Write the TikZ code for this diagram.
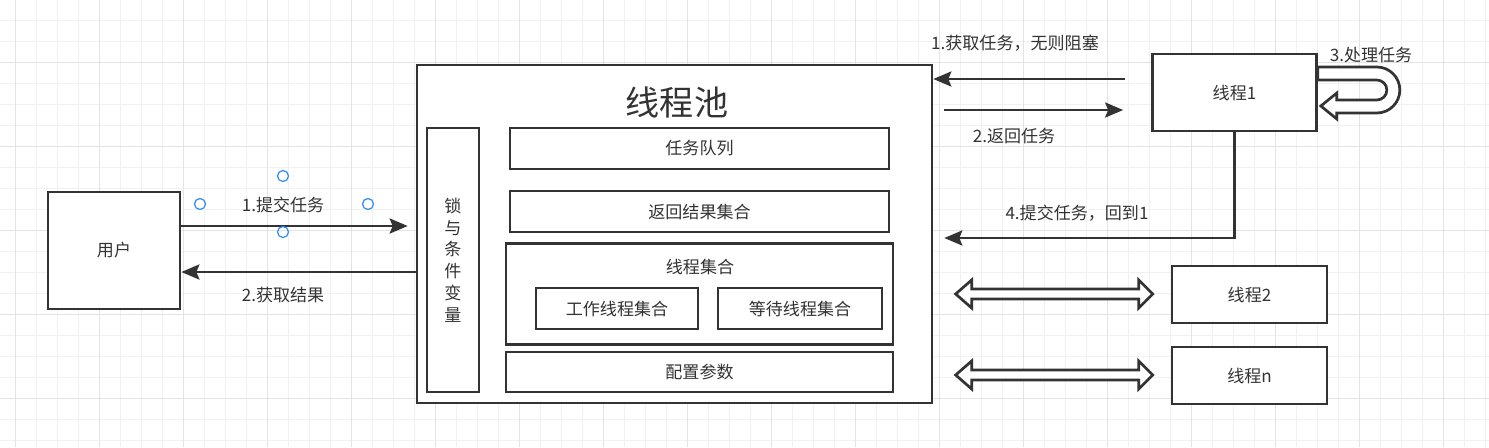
\documentclass[tikz,border=0pt]{standalone}
\usepackage{fontspec}
\setmainfont{Noto Sans CJK SC}
\usepackage{tikz}
\usetikzlibrary{arrows.meta,calc}
\definecolor{ink}{HTML}{333333}
\definecolor{gridminor}{HTML}{F1F1F1}
\definecolor{gridmajor}{HTML}{E3E3E3}
\definecolor{handle}{HTML}{2D8CF0}

\begin{document}
\begin{tikzpicture}[x=0.02cm, y=-0.02cm,
    box/.style={rectangle, draw=ink, line width=0.054cm, fill=white, text=ink,
        font=\fontsize{9.7}{12}\selectfont, inner sep=0pt},
    lbl/.style={text=ink, font=\fontsize{9.7}{12}\selectfont, inner sep=0pt},
    arr/.style={draw=ink, line width=0.054cm,
        -{Stealth[length=0.36cm, width=0.3cm, inset=0.06cm]}},
    hollow/.style={draw=ink, line width=0.054cm, fill=white, line join=miter} ]

    % page and grid
    \useasboundingbox[fill=white] (0,0) rectangle (1489,447);
    \foreach \i in {0,...,70}
        \draw[gridminor, line width=0.02cm] (15.7+21*\i,0) -- (15.7+21*\i,447);
    \foreach \k in {0,...,21}
        \draw[gridminor, line width=0.02cm] (0,-0.7+21*\k) -- (1489,-0.7+21*\k);
    \foreach \i in {0,...,17}
        \draw[gridmajor, line width=0.02cm] (15.7+84*\i,0) -- (15.7+84*\i,447);
    \foreach \k in {0,...,4}
        \draw[gridmajor, line width=0.02cm] (0,62.3+84*\k) -- (1489,62.3+84*\k);

    % user
    \node[box, minimum width=2.64cm, minimum height=2.34cm] (user) at (114,250.5) {用户};

    % thread pool
    \node[box, minimum width=10.3cm, minimum height=6.76cm] (pool) at (674.5,234) {};
    \node[lbl, font=\fontsize{19.4}{22}\selectfont] (title) at (677,102) {线程池};
    \node[box, minimum width=1.04cm, minimum height=5.28cm, align=center,
        font=\fontsize{9.7}{12.4}\selectfont] (lock) at (453,260) {锁\\与\\条\\件\\变\\量};
    \node[box, minimum width=7.58cm, minimum height=0.82cm] (queue) at (699.5,148.5) {任务队列};
    \node[box, minimum width=7.58cm, minimum height=0.82cm] (results) at (699.5,211.5) {返回结果集合};
    \node[box, minimum width=7.74cm, minimum height=2.02cm] (tset) at (699.5,294) {};
    \node[lbl] (tsettext) at (700,267) {线程集合};
    \node[box, minimum width=3.24cm, minimum height=0.82cm] (work) at (617,308.5) {工作线程集合};
    \node[box, minimum width=3.28cm, minimum height=0.82cm] (wait) at (800,308.5) {等待线程集合};
    \node[box, minimum width=7.74cm, minimum height=0.8cm] (config) at (699.5,372) {配置参数};

    % threads
    \node[box, minimum width=3.28cm, minimum height=1.54cm] (t1) at (1234.5,92.5) {线程1};
    \node[box, minimum width=3.1cm, minimum height=1.14cm] (t2) at (1249.5,294.5) {线程2};
    \node[box, minimum width=3.1cm, minimum height=1.14cm] (tn) at (1249.5,375.5) {线程n};

    % user <-> pool
    \draw[arr, shorten >=0.16cm] (user.east |- 0,226) -- (pool.west |- 0,226);
    \draw[arr] (pool.west |- 0,272) -- (user.east |- 0,272);
    \node[lbl] (submit) at (283,205) {1.提交任务};
    \node[lbl] (fetch) at (283,295) {2.获取结果};
    \foreach \p in {(200,204),(368,204),(283,176),(283,232)}
        \draw[handle, line width=0.024cm] \p circle[radius=0.11cm];

    % thread 1 <-> pool
    \draw[arr, shorten <=0.52cm] (t1.west |- 0,79) -- (pool.east |- 0,79);
    \draw[arr, shorten <=0.22cm, shorten >=0.56cm] (pool.east |- 0,110) -- (t1.west |- 0,110);
    \draw[arr] (t1.south) |- ($(pool.east |- 0,238)+(11,0)$);
    \node[lbl] (take) at (1015,43) {1.获取任务，无则阻塞};
    \node[lbl] (give) at (1014,136) {2.返回任务};
    \node[lbl] (handle) at (1371,55) {3.处理任务};
    \node[lbl] (back) at (1077,213) {4.提交任务，回到1};

    % loop of thread 1
    \draw[hollow] ($(t1.east)+(0,-25.5)$) -- ++(59,0)
        arc[start angle=90, end angle=-90, radius=0.46cm] -- ++(-40,0) -- ++(0,6)
        -- ++(-16,-13) -- ++(16,-13) -- ++(0,7) -- ++(40,0)
        arc[start angle=-90, end angle=90, radius=0.2cm] -- ++(-59,0) -- cycle;

    % other threads
    \foreach \t in {t2,tn}
        \draw[hollow] ($(\t.west)+(-18,-0.5)$) -- ++(-14,-14) -- ++(0,9) -- ++(-167,0)
            -- ++(0,-9) -- ++(-16,14) -- ++(16,14) -- ++(0,-9) -- ++(167,0)
            -- ++(0,9) -- cycle;

\end{tikzpicture}
\end{document}
